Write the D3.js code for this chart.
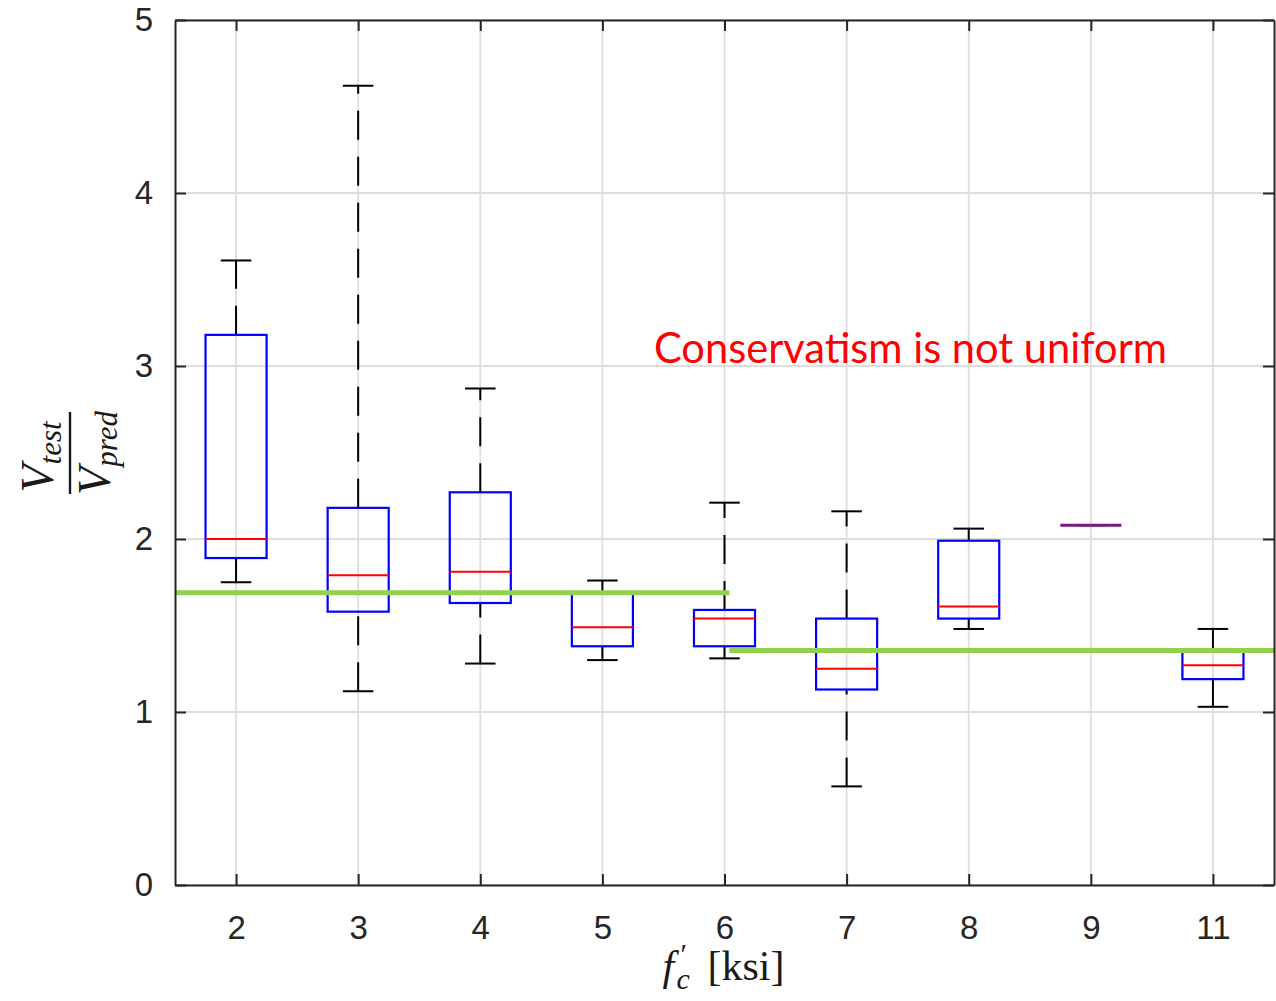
<!DOCTYPE html>
<html>
<head>
<meta charset="utf-8">
<script src="https://cdn.jsdelivr.net/npm/d3@7"></script>
<style>
    body { margin: 0; background: #fff; }
    svg { display: block; }
</style>
</head>
<body>
<svg id="chart" width="1276" height="1001"></svg>
<script>
// concrete strength groups, f'c [ksi]
var categories = [ '2', '3', '4', '5', '6', '7', '8', '9', '11' ];

// box plot statistics of Vtest / Vpred per group
var lowerWhisker = [ 1.75, 1.12, 1.28, 1.30, 1.31, 0.57, 1.48, 2.08, 1.03 ];
var quartile1    = [ 1.89, 1.58, 1.63, 1.38, 1.38, 1.13, 1.54, 2.08, 1.19 ];
var medians      = [ 2.00, 1.79, 1.81, 1.49, 1.54, 1.25, 1.61, 2.08, 1.27 ];
var quartile3    = [ 3.18, 2.18, 2.27, 1.69, 1.59, 1.54, 1.99, 2.08, 1.35 ];
var upperWhisker = [ 3.61, 4.62, 2.87, 1.76, 2.21, 2.16, 2.06, 2.08, 1.48 ];

// green level lines (x in box index units, 1 = first group)
var levelStart = [ 0.5, 5.04 ];
var levelEnd   = [ 5.04, 9.5 ];
var levelValue = [ 1.69, 1.355 ];

var yTicks = [ 0, 1, 2, 3, 4, 5 ];
var note = 'Conservatism is not uniform';

var plot = { left: 175, right: 1274, top: 20, bottom: 885 };
var svg = d3.select( '#chart' );

var x = d3.scaleLinear().domain( [ 0.5, categories.length + 0.5 ] ).range( [ plot.left, plot.right ] );
var y = d3.scaleLinear().domain( [ 0, 5 ] ).range( [ plot.bottom, plot.top ] );
var step = x( 2 ) - x( 1 );
var boxW = step * 0.5;
var capW = step * 0.25;
var idx = d3.range( 1, categories.length + 1 );

// grid
var grid = svg.append( 'g' ).attr( 'stroke', '#dedede' ).attr( 'stroke-width', 1.8 );
grid.selectAll( '.gx' ).data( idx ).join( 'line' )
    .attr( 'x1', function( d ) { return x( d ); } ).attr( 'x2', function( d ) { return x( d ); } )
    .attr( 'y1', plot.top ).attr( 'y2', plot.bottom );
grid.selectAll( '.gy' ).data( yTicks ).join( 'line' )
    .attr( 'x1', plot.left ).attr( 'x2', plot.right )
    .attr( 'y1', function( d ) { return y( d ); } ).attr( 'y2', function( d ) { return y( d ); } );

// boxes
var boxes = svg.append( 'g' ).selectAll( 'g' ).data( idx ).join( 'g' );
boxes.each( function( d ) {
    var g = d3.select( this );
    var i = d - 1, cx = x( d );
    // whiskers go from the lower value up
    [ [ lowerWhisker[ i ], quartile1[ i ] ], [ quartile3[ i ], upperWhisker[ i ] ] ].forEach( function( seg ) {
        g.append( 'line' ).attr( 'x1', cx ).attr( 'x2', cx )
            .attr( 'y1', y( seg[ 0 ] ) ).attr( 'y2', y( seg[ 1 ] ) )
            .attr( 'stroke', '#000' ).attr( 'stroke-width', 2 ).attr( 'stroke-dasharray', '29,17' );
    });
    [ lowerWhisker[ i ], upperWhisker[ i ] ].forEach( function( v ) {
        g.append( 'line' ).attr( 'x1', cx - capW / 2 ).attr( 'x2', cx + capW / 2 )
            .attr( 'y1', y( v ) ).attr( 'y2', y( v ) )
            .attr( 'stroke', '#000' ).attr( 'stroke-width', 2 );
    });
    // a single sample collapses box and median: blue + red drawn on top of each other
    var flat = quartile3[ i ] - quartile1[ i ] < 0.005;
    g.append( 'rect' ).attr( 'x', cx - boxW / 2 ).attr( 'width', boxW )
        .attr( 'y', y( quartile3[ i ] ) ).attr( 'height', y( quartile1[ i ] ) - y( quartile3[ i ] ) )
        .attr( 'fill', 'none' ).attr( 'stroke', '#0000ff' ).attr( 'stroke-width', 2.2 );
    g.append( 'line' ).attr( 'x1', cx - boxW / 2 ).attr( 'x2', cx + boxW / 2 )
        .attr( 'y1', y( medians[ i ] ) ).attr( 'y2', y( medians[ i ] ) )
        .attr( 'stroke', flat ? '#7a1a86' : '#ff0000' ).attr( 'stroke-width', flat ? 3 : 2 );
});

// green levels
svg.append( 'g' ).selectAll( 'line' ).data( levelValue ).join( 'line' )
    .attr( 'x1', function( d, i ) { return x( levelStart[ i ] ); } )
    .attr( 'x2', function( d, i ) { return x( levelEnd[ i ] ); } )
    .attr( 'y1', function( d ) { return y( d ); } ).attr( 'y2', function( d ) { return y( d ); } )
    .attr( 'stroke', '#92d050' ).attr( 'stroke-width', 5 );

// axes (ticks inside, box on)
var fmt = function( i ) { return categories[ i - 1 ]; };
var axisFont = '"Liberation Sans", Arial, Helvetica, sans-serif';
function styleAxis( g ) {
    g.select( '.domain' ).attr( 'stroke', '#262626' ).attr( 'stroke-width', 2 );
    g.selectAll( '.tick line' ).attr( 'stroke', '#262626' ).attr( 'stroke-width', 2 );
    g.selectAll( 'text' ).attr( 'fill', '#262626' ).style( 'font-family', axisFont ).style( 'font-size', '33px' );
}
svg.append( 'g' ).attr( 'transform', 'translate(0,' + plot.bottom + ')' )
    .call( d3.axisBottom( x ).tickValues( idx ).tickFormat( fmt ).tickSizeInner( -11 ).tickSizeOuter( 0 ).tickPadding( 31 ) )
    .call( styleAxis );
svg.append( 'g' ).attr( 'transform', 'translate(0,' + plot.top + ')' )
    .call( d3.axisTop( x ).tickValues( idx ).tickFormat( '' ).tickSizeInner( -11 ).tickSizeOuter( 0 ) )
    .call( styleAxis );
svg.append( 'g' ).attr( 'transform', 'translate(' + plot.left + ',0)' )
    .call( d3.axisLeft( y ).tickValues( yTicks ).tickFormat( d3.format( 'd' ) ).tickSizeInner( -11 ).tickSizeOuter( 0 ).tickPadding( 22 ) )
    .call( styleAxis );
svg.append( 'g' ).attr( 'transform', 'translate(' + plot.right + ',0)' )
    .call( d3.axisRight( y ).tickValues( yTicks ).tickFormat( '' ).tickSizeInner( -11 ).tickSizeOuter( 0 ) )
    .call( styleAxis );

// annotation
svg.append( 'text' ).attr( 'x', 654 ).attr( 'y', 363 )
    .attr( 'fill', '#ff0000' ).style( 'font-family', 'Lato, "Noto Sans", sans-serif' ).style( 'font-size', '42px' )
    .attr( 'textLength', 513 ).attr( 'lengthAdjust', 'spacingAndGlyphs' )
    .text( note );

// y label: Vtest / Vpred fraction
var serif = '"Liberation Serif", "Times New Roman", serif';
var yl = svg.append( 'g' ).attr( 'transform', 'translate(70,453) rotate(-90)' )
    .style( 'font-family', serif ).style( 'font-style', 'italic' ).attr( 'fill', '#1a1a1a' );
yl.append( 'line' ).attr( 'x1', -41 ).attr( 'x2', 41 ).attr( 'stroke', '#1a1a1a' ).attr( 'stroke-width', 2.4 );
var num = yl.append( 'text' ).attr( 'text-anchor', 'middle' ).attr( 'x', -4 ).attr( 'y', -17 );
num.append( 'tspan' ).style( 'font-size', '46px' ).text( 'V' );
num.append( 'tspan' ).style( 'font-size', '31px' ).attr( 'dy', 8 ).text( 'test' );
var den = yl.append( 'text' ).attr( 'text-anchor', 'middle' ).attr( 'x', 0 ).attr( 'y', 40 );
den.append( 'tspan' ).style( 'font-size', '46px' ).text( 'V' );
den.append( 'tspan' ).style( 'font-size', '31px' ).attr( 'dy', 7 ).text( 'pred' );

// x label: f'c [ksi]
var xc = ( plot.left + plot.right ) / 2;
var xl = svg.append( 'g' ).style( 'font-family', serif ).attr( 'fill', '#1a1a1a' );
xl.append( 'text' ).attr( 'x', xc - 62 ).attr( 'y', 980 ).style( 'font-size', '42px' ).style( 'font-style', 'italic' ).text( 'f' );
xl.append( 'text' ).attr( 'x', xc - 44 ).attr( 'y', 964 ).style( 'font-size', '30px' ).text( '\u2032' );
xl.append( 'text' ).attr( 'x', xc - 48 ).attr( 'y', 989 ).style( 'font-size', '30px' ).style( 'font-style', 'italic' ).text( 'c' );
xl.append( 'text' ).attr( 'x', xc - 17 ).attr( 'y', 980 ).style( 'font-size', '42px' ).text( '[ksi]' );
</script>
</body>
</html>
